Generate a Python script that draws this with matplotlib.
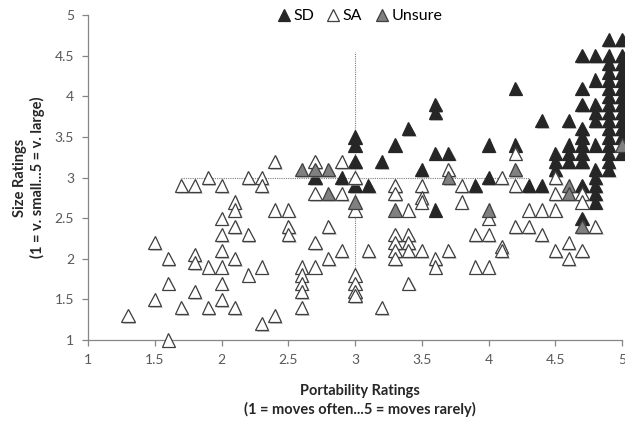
import matplotlib
matplotlib.use("Agg")
import matplotlib.pyplot as plt
import matplotlib.patheffects as pe
from matplotlib.lines import Line2D

plt.rcParams['font.family'] = ['Lato', 'DejaVu Sans']

# (portability, size) pairs
sd_pts = [(2.7,3.0),(2.9,3.0),
    (3.0,3.5),(3.0,3.4),(3.0,3.2),(3.0,2.9),
    (3.1,2.9),(3.2,3.2),(3.3,3.4),(3.4,3.6),(3.5,3.1),(3.6,3.9),(3.6,3.8),
    (3.6,3.3),(3.7,3.3),(3.6,2.6),(3.9,2.9),
    (4.0,3.4),(4.0,3.0),(4.2,4.1),(4.2,3.4),(4.3,2.9),(4.4,2.9),(4.4,3.7),
    (4.5,3.3),(4.5,3.2),(4.5,3.1),
    (4.6,3.7),(4.6,3.4),(4.6,3.3),(4.6,3.2),
    (4.7,4.5),(4.7,4.1),(4.7,3.9),(4.7,3.6),(4.7,3.5),(4.7,3.4),(4.7,3.3),
    (4.7,3.2),(4.7,2.9),(4.7,2.5),
    (4.8,4.5),(4.8,4.2),(4.8,3.9),(4.8,3.8),(4.8,3.7),(4.8,3.4),(4.8,3.1),
    (4.8,3.0),(4.8,2.9),(4.8,2.8),(4.8,2.7),
    (4.9,4.7),(4.9,4.5),(4.9,4.4),(4.9,4.3),(4.9,4.2),(4.9,4.1),(4.9,4.0),
    (4.9,3.9),(4.9,3.8),(4.9,3.7),(4.9,3.6),(4.9,3.5),(4.9,3.4),(4.9,3.3),
    (4.9,3.2),(4.9,3.1),
    (5.0,4.7),(5.0,4.5),(5.0,4.4),(5.0,4.3),(5.0,4.2),(5.0,4.1),(5.0,4.0),
    (5.0,3.9),(5.0,3.8),(5.0,3.7),(5.0,3.6),(5.0,3.5),(5.0,3.3)]

sa_pts = [(1.3,1.3),(1.5,2.2),(1.5,1.5),(1.6,2.0),(1.6,1.7),(1.6,1.0),
    (1.7,2.9),(1.7,1.4),(1.8,2.9),(1.8,2.05),(1.8,1.95),(1.8,1.6),
    (1.9,3.0),(1.9,1.9),(1.9,1.4),
    (2.0,2.9),(2.0,2.5),(2.0,2.3),(2.0,2.1),(2.0,1.9),(2.0,1.7),(2.0,1.5),
    (2.1,2.7),(2.1,2.6),(2.1,2.4),(2.1,2.0),(2.1,1.4),
    (2.2,3.0),(2.2,2.3),(2.2,1.8),
    (2.3,3.0),(2.3,2.9),(2.3,1.9),(2.3,1.2),
    (2.4,3.2),(2.4,2.6),(2.4,1.3),
    (2.5,2.6),(2.5,2.4),(2.5,2.3),
    (2.6,1.9),(2.6,1.8),(2.6,1.7),(2.6,1.6),(2.6,1.4),
    (2.7,3.2),(2.7,2.8),(2.7,2.2),(2.7,1.9),
    (2.8,2.4),(2.8,2.0),
    (2.9,3.2),(2.9,2.8),(2.9,2.1),
    (3.0,3.0),(3.0,2.6),(3.0,1.8),(3.0,1.7),(3.0,1.6),(3.0,1.55),
    (3.1,2.1),(3.2,1.4),
    (3.3,2.9),(3.3,2.8),(3.3,2.3),(3.3,2.2),(3.3,2.1),(3.3,2.0),
    (3.4,2.6),(3.4,2.3),(3.4,2.2),(3.4,2.1),(3.4,1.7),
    (3.5,2.9),(3.5,2.75),(3.5,2.7),(3.5,2.1),
    (3.6,2.0),(3.6,1.9),
    (3.7,3.1),(3.7,2.1),
    (3.8,2.9),(3.8,2.7),
    (3.9,2.3),(3.9,1.9),
    (4.0,2.5),(4.0,2.3),(4.0,1.9),
    (4.1,3.0),(4.1,2.15),(4.1,2.1),
    (4.2,3.3),(4.2,2.9),(4.2,2.4),
    (4.3,2.6),(4.3,2.4),
    (4.4,2.6),(4.4,2.3),
    (4.5,3.0),(4.5,2.8),(4.5,2.6),(4.5,2.1),
    (4.6,2.2),(4.6,2.0),
    (4.7,2.8),(4.7,2.7),(4.7,2.1),
    (4.8,2.4)]

unsure_pts = [(2.6,3.1),(2.7,3.1),(2.8,3.1),(2.8,2.8),(3.0,2.7),(3.3,2.6),
    (3.7,3.0),(4.0,2.6),(4.2,3.1),(4.6,2.9),(4.6,2.8),(4.7,2.4),(5.0,3.4)]

series = [("SD", sd_pts, "#262626", "#262626"),
          ("SA", sa_pts, "#ffffff", "#3f3f3f"),
          ("Unsure", unsure_pts, "#808080", "#3f3f3f")]

fig = plt.figure(figsize=(6.25, 4.23), dpi=100)
ax = fig.add_axes([0.1408, 0.196, 0.8544, 0.7685])

shadow = [pe.SimplePatchShadow(offset=(1.2, -1.2), shadow_rgbFace="#999999", alpha=0.6), pe.Normal()]

# reference lines at 3
ax.plot([1.7, 4.3], [3, 3], ls=(0, (1, 1)), color="#7f7f7f", lw=0.8, zorder=1)
ax.plot([3, 3], [1.5, 4.55], ls=(0, (1, 1)), color="#7f7f7f", lw=0.8, zorder=1)

handles = []
for name, pts, face, edge in series:
    xs = [p[0] for p in pts]
    ys = [p[1] for p in pts]
    ax.plot(xs, ys, ls="none", marker="^", ms=9.5, mfc=face, mec=edge,
            mew=0.9, clip_on=False, zorder=3, path_effects=shadow)
    handles.append(Line2D([], [], ls="none", marker="^", ms=9, mfc=face,
                          mec=edge, mew=0.9, label=name))

ax.set_xlim(1, 5)
ax.set_ylim(1, 5)
ticks = [1, 1.5, 2, 2.5, 3, 3.5, 4, 4.5, 5]
tick_labels = ["1", "1.5", "2", "2.5", "3", "3.5", "4", "4.5", "5"]
ax.set_xticks(ticks)
ax.set_xticklabels(tick_labels)
ax.set_yticks(ticks)
ax.set_yticklabels(tick_labels)
for s in ["top", "right"]:
    ax.spines[s].set_visible(False)
for s in ["left", "bottom"]:
    ax.spines[s].set_color("#868686")
    ax.spines[s].set_linewidth(0.9)
ax.tick_params(length=4, width=0.9, color="#868686", labelcolor="#595959",
               labelsize=10, pad=6)

ax.set_xlabel("Portability Ratings\n(1 = moves often...5 = moves rarely)",
              fontsize=10.5, fontweight="bold", color="#262626", linespacing=1.3)
ax.xaxis.set_label_coords(0.51, -0.135)
ax.set_ylabel("Size Ratings\n(1 = v. small...5 = v. large)",
              fontsize=10.5, fontweight="bold", color="#262626", linespacing=1.25)
ax.yaxis.set_label_coords(-0.08, 0.5)

fig.legend(handles=handles, loc="center", bbox_to_anchor=(0.573, 0.962), ncol=3,
           frameon=False, fontsize=11.5, handletextpad=0.0, columnspacing=0.6,
           handlelength=1.2)

fig.savefig("out.png", dpi=100)
